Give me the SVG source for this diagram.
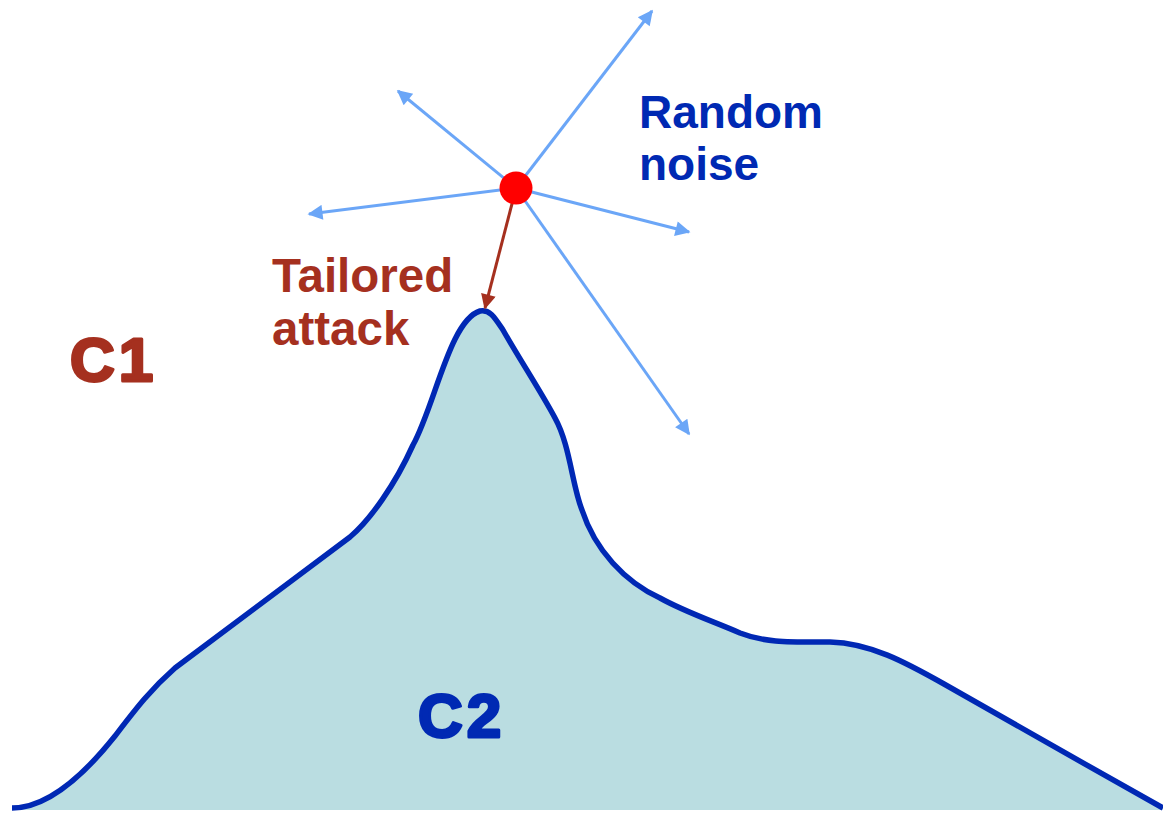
<svg xmlns="http://www.w3.org/2000/svg" width="1163" height="813" viewBox="0 0 1163 813">
<style>
.lbl{font-family:"Liberation Sans",Arial,sans-serif;font-weight:bold}
.brown{fill:#A5301F}
.blue{fill:#0029B3}
.heavy{stroke-width:3;stroke-linejoin:round;letter-spacing:4px}
.noise{stroke:#6BA6F7;stroke-width:3;fill:none;marker-end:url(#ahBlue)}
.attack{stroke:#A5301F;stroke-width:3;fill:none;marker-end:url(#ahBrown)}
</style>
<defs>
<marker id="ahBlue" viewBox="0 0 10 10" refX="9" refY="5" markerWidth="6.5" markerHeight="5" orient="auto" markerUnits="strokeWidth">
<path d="M0,0 L10,5 L0,10 z" fill="#6BA6F7"/>
</marker>
<marker id="ahBrown" viewBox="0 0 10 10" refX="9" refY="5" markerWidth="6.5" markerHeight="5" orient="auto" markerUnits="strokeWidth">
<path d="M0,0 L10,5 L0,10 z" fill="#A5301F"/>
</marker>
</defs>
<rect width="1163" height="813" fill="#ffffff"/>
<g id="c2-region">
<path d="M12 808 C45 808 80 780 115 736 C135 710 150 690 175 668 L350 537 C370 520 395 485 413 445 C435 405 450 320 480 311 C490 309 495 318 503 330 C520 360 540 390 555 418 C570 445 572 485 582 510 C595 550 625 582 660 598 C685 612 715 622 740 633 C765 643 790 642 830 642 C870 643 905 662 944 684 C1000 716 1090 767 1163 808 L1163 810 L12 810 Z" fill="#BADDE1"/>
<path d="M12 808 C45 808 80 780 115 736 C135 710 150 690 175 668 L350 537 C370 520 395 485 413 445 C435 405 450 320 480 311 C490 309 495 318 503 330 C520 360 540 390 555 418 C570 445 572 485 582 510 C595 550 625 582 660 598 C685 612 715 622 740 633 C765 643 790 642 830 642 C870 643 905 662 944 684 C1000 716 1090 767 1163 808" fill="none" stroke="#0028B4" stroke-width="5.5" stroke-linejoin="round"/>
</g>
<g id="connectors">
<line class="noise" x1="516" y1="188" x2="652" y2="11"/>
<line class="noise" x1="516" y1="188" x2="398" y2="91"/>
<line class="noise" x1="516" y1="188" x2="309" y2="214"/>
<line class="noise" x1="516" y1="188" x2="689" y2="232"/>
<line class="noise" x1="516" y1="188" x2="689" y2="434"/>
<line class="attack" x1="514" y1="196" x2="485" y2="308"/>
</g>
<g id="point">
<circle cx="516" cy="188" r="16.5" fill="#FF0000"/>
</g>
<g id="label-c1">
<text class="lbl brown heavy" x="70" y="381" font-size="62" stroke="#A5301F">C1</text>
</g>
<g id="label-c2">
<text class="lbl blue heavy" x="418" y="737" font-size="62" stroke="#0029B3">C2</text>
</g>
<g id="label-tailored">
<text class="lbl brown" x="272" y="292" font-size="47.5">Tailored</text>
<text class="lbl brown" x="272" y="345" font-size="47.5">attack</text>
</g>
<g id="label-noise">
<text class="lbl blue" x="639" y="128" font-size="46">Random</text>
<text class="lbl blue" x="639" y="180" font-size="46">noise</text>
</g>
</svg>
